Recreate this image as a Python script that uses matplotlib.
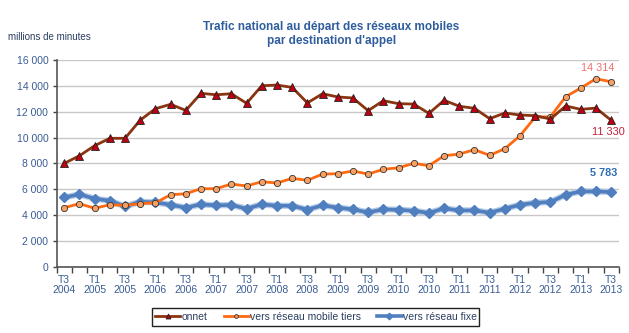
import matplotlib
matplotlib.use("Agg")
import matplotlib.pyplot as plt
from matplotlib.patches import Rectangle
import numpy as np

plt.rcParams["font.family"] = ["Liberation Sans", "DejaVu Sans"]

# Quarterly traffic, T3 2004 .. T3 2013 (millions of minutes)
quarters = []
for year in range(2004, 2014):
    for q in range(1, 5):
        if (year == 2004 and q < 3) or (year == 2013 and q > 3):
            continue
        quarters.append(f"T{q}\n{year}")

onnet = [8000, 8590, 9370, 9940, 9940, 11350, 12230, 12570, 12100, 13420,
         13310, 13390, 12650, 14010, 14060, 13880, 12680, 13390, 13140, 13060,
         12080, 12850, 12620, 12590, 11870, 12880, 12420, 12260, 11460, 11900,
         11740, 11690, 11430, 12440, 12180, 12280, 11330]

mobile_tiers = [4570, 4880, 4520, 4800, 4750, 4880, 4950, 5570, 5650, 6040,
                6040, 6400, 6250, 6580, 6480, 6840, 6690, 7170, 7200, 7410,
                7170, 7540, 7660, 8000, 7820, 8590, 8720, 9060, 8620, 9140,
                10140, 11590, 11600, 13160, 13830, 14550, 14314]

fixe = [5370, 5600, 5270, 5110, 4670, 5030, 4980, 4800, 4570, 4830,
        4750, 4780, 4490, 4830, 4720, 4720, 4420, 4750, 4570, 4440,
        4210, 4440, 4410, 4330, 4160, 4520, 4360, 4360, 4180, 4490,
        4800, 4950, 5010, 5570, 5830, 5830, 5783]

y_ticks = list(range(0, 16001, 2000))

text_blue = "#3A5C94"
title_blue = "#2F5D9E"
label_size = 7.5

fig = plt.figure(figsize=(6.29, 3.33), dpi=100)
ax = fig.add_axes([0.0901, 0.199, 0.8937, 0.6208])

x = np.arange(len(quarters))

# soft halo under the fixed-network line
ax.plot(x, fixe, color="#B8CCE6", lw=4.5, solid_capstyle="round", zorder=2)
ax.plot(x, fixe, color="#4F7FBF", lw=2.6, marker="D", ms=5.5,
        markerfacecolor="#4F7FBF", markeredgecolor="#4F7FBF",
        label="vers réseau fixe", zorder=3)
ax.plot(x, mobile_tiers, color="#FF6A10", lw=2.0, marker="o", ms=4.5,
        markerfacecolor="#F8A060", markeredgecolor="#333333", markeredgewidth=0.6,
        label="vers réseau mobile tiers", zorder=4)
ax.plot(x, onnet, color="#8A3410", lw=2.0, marker="^", ms=6,
        markerfacecolor="#C00010", markeredgecolor="#222222", markeredgewidth=0.6,
        label="onnet", zorder=5)

ax.set_xlim(-0.5, len(quarters) - 0.5)
ax.set_ylim(0, 16000)

ax.set_yticks(y_ticks)
ax.set_yticklabels([f"{v:,}".replace(",", " ") for v in y_ticks])
ax.yaxis.grid(True, color="#C8C8C8", lw=1.0)
ax.set_axisbelow(True)

ax.set_xticks(x[::2])
ax.set_xticklabels(quarters[::2])
ax.set_xticks(np.arange(-0.5, len(quarters), 1.0), minor=True)
ax.tick_params(axis="x", which="major", length=0, pad=6,
               labelsize=label_size, labelcolor=text_blue)
ax.tick_params(axis="x", which="minor", length=4, width=1, color="#444444")
ax.tick_params(axis="y", length=3, width=1, color="#444444",
               labelsize=label_size, labelcolor=text_blue, pad=3)
for lbl in ax.get_xticklabels():
    lbl.set_linespacing(1.0)

for side in ("top", "right"):
    ax.spines[side].set_visible(False)
for side in ("left", "bottom"):
    ax.spines[side].set_color("#555555")
    ax.spines[side].set_linewidth(1.2)

# End-of-series value labels
ax.text(x[-1] - 0.9, 15350, f"{mobile_tiers[-1]:,}".replace(",", " "),
        color="#F07070", fontsize=label_size + 0.3, ha="center", va="center")
ax.text(x[-1] - 0.2, 10430, f"{onnet[-1]:,}".replace(",", " "),
        color="#C0203A", fontsize=label_size + 0.3, ha="center", va="center")
ax.text(x[-1] - 0.5, 7250, f"{fixe[-1]:,}".replace(",", " "),
        color="#2E6DB4", fontsize=label_size + 0.3, fontweight="bold",
        ha="center", va="center")

fig.text(0.527, 0.898, "Trafic national au départ des réseaux mobiles\npar destination d'appel",
         ha="center", va="center", fontsize=8.5, fontweight="bold",
         color=title_blue, linespacing=1.15)
fig.text(0.013, 0.889, "millions de minutes", fontsize=7, color="#2C3E60",
         ha="left", va="center")

handles, labels = ax.get_legend_handles_labels()
order = [2, 1, 0]
leg = fig.legend([handles[i] for i in order], [labels[i] for i in order],
                 loc="center", bbox_to_anchor=(0.503, 0.048), ncol=3,
                 fontsize=label_size, frameon=False,
                 handlelength=2.4, handletextpad=0.15,
                 columnspacing=1.5, borderpad=0.3, markerscale=0.6)
for t in leg.get_texts():
    t.set_color("#2C3E60")

fig.patches.append(Rectangle((152 / 629, 1 - 326 / 333), (479 - 152) / 629, 18 / 333,
                             transform=fig.transFigure, fill=False,
                             edgecolor="#222222", lw=1.0))

fig.savefig("out.png", dpi=100)
